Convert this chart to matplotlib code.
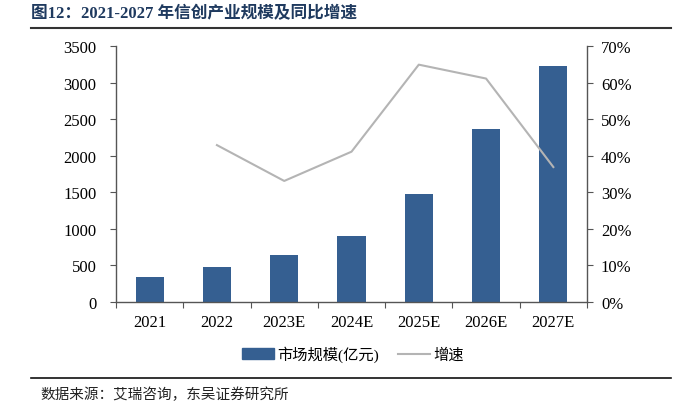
import matplotlib
matplotlib.use("Agg")
import matplotlib.pyplot as plt
from matplotlib.lines import Line2D
from matplotlib.ticker import FuncFormatter, MultipleLocator

"""Categories on the x axis"""
YEARS = ["2021", "2022", "2023E", "2024E", "2025E", "2026E", "2027E"]

"""Market size, 100 million yuan"""
MARKET = [342, 479, 637, 897, 1472, 2370, 3232]

"""Year-on-year growth (%), first year has none"""
GROWTH = [None, 42.9, 33.1, 41.1, 64.9, 61.1, 36.9]

TITLE = "图12：2021-2027 年信创产业规模及同比增速"
SOURCE = "数据来源：艾瑞咨询，东吴证券研究所"

BAR_COLOR = "#355F91"
LINE_COLOR = "#B4B4B4"
TITLE_COLOR = "#1F3A5F"

CJK = ["Liberation Serif", "Noto Sans CJK SC"]

plt.rcParams["font.family"] = CJK

fig = plt.figure(figsize=(6.88, 4.10), dpi=100)
W, H = 688, 410

# plot area in pixel coords: left 116, right 587, top 47, bottom 303
ax = fig.add_axes([116 / W, 1 - 303 / H, (587 - 116) / W, (303 - 47) / H])
ax2 = ax.twinx()

x = list(range(len(YEARS)))
ax.bar(x, MARKET, width=0.42, color=BAR_COLOR, zorder=2)
gx = [i for i, g in zip(x, GROWTH) if g is not None]
gy = [g for g in GROWTH if g is not None]
ax2.plot(gx, gy, color=LINE_COLOR, lw=1.5, zorder=3)

ax.set_xlim(-0.5, len(YEARS) - 0.5)
ax.set_ylim(0, 3500)
ax.yaxis.set_major_locator(MultipleLocator(500))
ax2.set_ylim(0, 70)
ax2.yaxis.set_major_locator(MultipleLocator(10))
ax2.yaxis.set_major_formatter(FuncFormatter(lambda v, p: "%d%%" % v))

ax.set_xticks([i + 0.5 for i in range(-1, len(YEARS))])
ax.set_xticklabels([])
ax.set_xticks(x, minor=True)
ax.set_xticklabels(YEARS, minor=True)
ax.tick_params(axis="x", which="major", length=4, direction="out", color="#555555")
ax.tick_params(axis="x", which="minor", length=0, labelsize=12, pad=9)
ax.tick_params(axis="y", length=4, direction="out", labelsize=12, color="#555555", pad=10)
ax2.tick_params(axis="y", length=4, direction="out", labelsize=12, color="#555555", pad=6)

for a in (ax, ax2):
    a.spines["top"].set_visible(False)
    for s in ("left", "right", "bottom"):
        a.spines[s].set_color("#555555")
        a.spines[s].set_linewidth(1.0)
ax.spines["right"].set_visible(False)
ax2.spines["left"].set_visible(False)
ax2.spines["bottom"].set_visible(False)

# legend
handles = [
    plt.Rectangle((0, 0), 1, 1, color=BAR_COLOR),
    Line2D([0], [0], color=LINE_COLOR, lw=1.5),
]
fig.legend(handles, ["市场规模(亿元)", "增速"], loc="center",
           bbox_to_anchor=(353 / W, 1 - 355 / H), ncol=2, frameon=False,
           prop={"family": CJK, "size": 11}, handlelength=2.1,
           handleheight=0.7, columnspacing=1.2, handletextpad=0.25)

# title, rules and source
fig.text(31 / W, 1 - 14 / H, TITLE, ha="left", va="center", fontsize=12,
         fontweight="bold", color=TITLE_COLOR, family=CJK)
fig.add_artist(Line2D([31 / W, 671 / W], [1 - 29 / H] * 2, color="#333333", lw=1.5))
fig.add_artist(Line2D([31 / W, 671 / W], [1 - 379 / H] * 2, color="#111111", lw=1.2))
fig.text(40 / W, 1 - 395 / H, SOURCE, ha="left", va="center", fontsize=10.5,
         color="#222222", family=CJK)

plt.savefig("out.png", dpi=100)
